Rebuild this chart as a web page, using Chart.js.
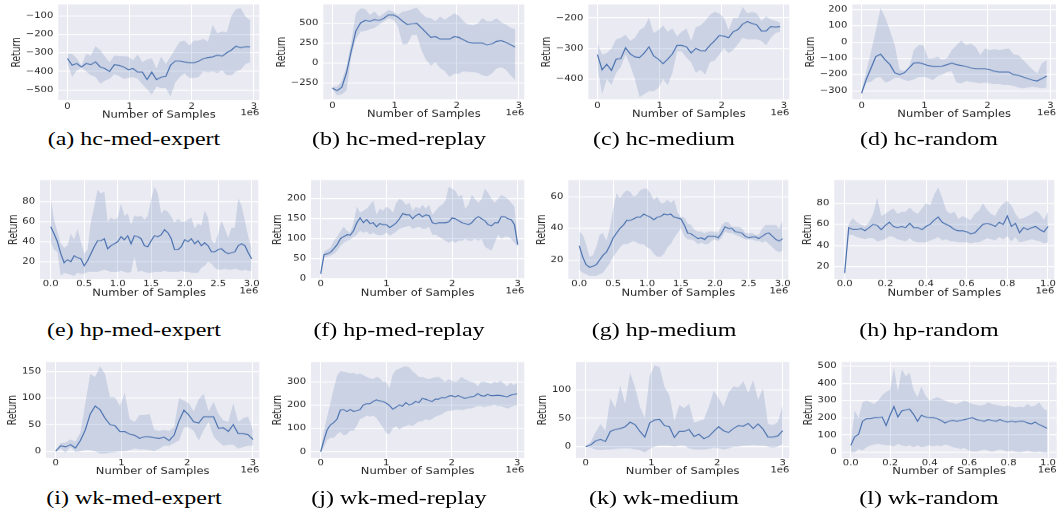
<!DOCTYPE html>
<html><head><meta charset="utf-8">
<script src="https://cdn.jsdelivr.net/npm/chart.js@4.4.0/dist/chart.umd.min.js"></script>
<style>
body{margin:0;background:#fff;width:1060px;height:512px;overflow:hidden;position:relative;}
.cap{position:absolute;font-family:'Liberation Serif','DejaVu Serif',serif;font-size:24px;color:#000;white-space:nowrap;transform:translate(-50%,-50%) scaleY(0.8);}
canvas{position:absolute;}
</style></head><body>
<script>
// ---------------- data ----------------
const captions = ['(a) hc-med-expert','(b) hc-med-replay','(c) hc-medium','(d) hc-random',
  '(e) hp-med-expert','(f) hp-med-replay','(g) hp-medium','(h) hp-random',
  '(i) wk-med-expert','(j) wk-med-replay','(k) wk-medium','(l) wk-random'];

const xTicks3 = [0,1,2,3];
const xTicks3h = [0,0.5,1,1.5,2,2.5,3];
const xTicks1 = [0,0.2,0.4,0.6,0.8,1.0];

const hcMedExpertYTicks = [-500,-400,-300,-200,-100];
const hcMedReplayYTicks = [-250,0,250,500];
const hcMediumYTicks = [-400,-300,-200];
const hcRandomYTicks = [-300,-200,-100,0,100,200];
const hpMedExpertYTicks = [20,40,60,80];
const hpMedReplayYTicks = [0,50,100,150,200];
const hpMediumYTicks = [20,40,60];
const hpRandomYTicks = [20,40,60,80];
const wkMedExpertYTicks = [0,50,100,150];
const wkMedReplayYTicks = [0,100,200,300];
const wkMediumYTicks = [0,50,100];
const wkRandomYTicks = [0,100,200,300,400,500];

const hcMedExpertMean = [-330,-367,-358,-376,-358,-364,-349,-376,-385,-400,-364,-367,-376,-391,-385,-404,-404,-444,-404,-444,-431,-427,-367,-344,-344,-349,-353,-353,-345,-331,-325,-322,-313,-318,-300,-285,-264,-273,-267,-267];
const hcMedExpertUpper = [-305,-305,-330,-370,-305,-315,-265,-285,-320,-350,-315,-318,-318,-320,-340,-310,-350,-335,-330,-385,-320,-360,-320,-280,-240,-235,-260,-235,-235,-225,-240,-150,-195,-185,-190,-100,-65,-60,-105,-125];
const hcMedExpertLower = [-355,-430,-395,-380,-400,-420,-430,-465,-450,-440,-415,-425,-440,-435,-430,-440,-470,-495,-525,-480,-490,-490,-535,-460,-430,-410,-435,-435,-430,-400,-405,-400,-410,-395,-420,-420,-400,-390,-360,-350];

const hcMedReplayMean = [-312,-340,-300,-120,150,400,500,530,520,540,530,560,600,600,570,520,480,490,495,440,380,320,330,300,300,300,330,320,290,260,250,250,250,225,240,270,280,260,230,200];
const hcMedReplayUpper = [-290,-290,-220,-40,250,620,680,670,600,640,580,620,660,640,600,640,650,670,690,620,570,560,520,580,540,580,620,590,520,480,470,490,560,520,520,560,510,480,440,420];
const hcMedReplayLower = [-320,-400,-390,-340,80,300,390,400,420,440,480,520,560,540,450,230,240,350,350,160,40,-30,10,-60,-100,-170,-130,-130,-100,-110,-110,-120,-150,-165,-130,-70,-50,-80,-150,-210];

const hcMediumMean = [-320,-370,-352,-372,-335,-333,-298,-318,-328,-330,-315,-295,-325,-335,-350,-335,-318,-290,-290,-295,-315,-300,-307,-308,-290,-275,-258,-260,-265,-245,-238,-220,-212,-218,-223,-243,-243,-228,-230,-228];
const hcMediumUpper = [-285,-320,-315,-300,-270,-265,-255,-275,-265,-240,-230,-200,-250,-240,-225,-245,-235,-260,-245,-235,-275,-230,-225,-210,-190,-180,-185,-200,-240,-200,-200,-165,-185,-180,-185,-210,-195,-205,-210,-215];
const hcMediumLower = [-360,-450,-400,-420,-380,-360,-320,-355,-400,-460,-450,-440,-440,-430,-400,-420,-380,-310,-310,-330,-345,-380,-370,-385,-345,-340,-320,-300,-315,-305,-285,-265,-270,-270,-270,-275,-290,-265,-250,-245];

const hcRandomMean = [-315,-230,-160,-90,-75,-110,-140,-190,-200,-190,-160,-130,-128,-135,-145,-150,-150,-148,-140,-130,-140,-145,-150,-160,-165,-165,-165,-170,-180,-185,-185,-185,-200,-205,-215,-225,-235,-240,-225,-210];
const hcRandomUpper = [-300,-180,-60,70,210,150,70,-20,-170,-180,-160,-50,-20,-20,-100,-100,-90,-110,-100,-50,-20,10,-20,-10,-30,-80,-40,-50,-45,-50,-45,-40,-75,-80,-110,-140,-170,-195,-130,-110];
const hcRandomLower = [-330,-250,-245,-220,-215,-250,-240,-220,-220,-235,-240,-230,-215,-215,-220,-235,-210,-200,-185,-180,-250,-255,-240,-245,-250,-255,-250,-255,-260,-260,-265,-265,-270,-280,-285,-280,-275,-280,-285,-280];

const hpMedExpertMean = [55,48,40,28,19,22,20,26,24,23,16,21,28,35,41,41,43,33,36,38,40,45,42,46,38,46,45,43,36,35,41,46,45,47,52,49,43,32,32,35,42,40,43,38,41,36,39,36,30,30,32,33,30,28,29,30,36,38,36,29,23];
const hpMedExpertUpper = [83,62,50,38,34,36,48,42,53,40,28,32,60,75,92,88,90,60,64,62,64,78,66,68,57,66,65,66,62,66,82,95,88,68,72,70,65,59,63,60,60,62,64,53,58,56,71,64,42,38,48,61,53,44,54,54,83,76,61,45,33];
const hpMedExpertLower = [40,32,30,6,9,8,7,6,9,8,8,10,10,10,10,11,12,11,10,10,10,11,10,9,10,25,10,11,10,9,9,10,10,10,11,10,10,10,10,11,10,10,9,9,9,14,16,20,18,14,12,12,13,12,12,13,12,11,12,11,11];

const hpMedReplayMean = [12,60,62,66,75,85,100,105,110,109,120,140,152,140,148,138,140,130,138,135,135,128,133,140,150,163,160,160,150,158,162,155,160,158,140,138,140,140,140,142,152,150,145,140,138,135,140,150,155,150,145,135,132,140,140,155,155,150,148,135,85];
const hpMedReplayUpper = [15,68,72,78,95,105,118,130,120,115,140,180,165,170,175,185,195,160,175,170,180,175,165,190,200,195,185,190,170,180,175,185,175,185,160,170,180,185,195,230,225,220,205,210,175,185,210,200,190,200,225,215,200,190,200,210,205,200,190,180,90];
const hpMedReplayLower = [9,52,55,58,62,70,82,90,95,98,105,110,120,115,118,110,115,110,108,110,115,108,112,118,125,128,130,132,125,128,130,125,125,130,110,110,105,100,95,90,95,90,95,95,100,95,95,100,95,100,80,75,70,90,110,100,105,105,100,90,80];

const hpMediumMean = [29,22,17,15.5,16,17,20,23,25,29,34,37,40,42,45,45,46,47,47,49,48,47,45.5,47,47.5,49,48.5,49,47,46.5,46,42,37,36.5,35,33.5,34,33,35,35,35,34,37,41,40,40,38,37.5,37,35,34,34.5,34.5,33.5,35,36.5,37,35,33,32,33.5];
const hpMediumUpper = [38,36,30,22,23,28,36,37,32,40,52,62,59,62,64,63,60,61,64,65,65,62,58,60,56,56,58,56,58,50,47,47,43,42,39,38,38,37,38,38,38,37,42,44,44,41,41,41,40,37,37,37,36,36,40,42,42,42,42,40,45];
const hpMediumLower = [14,12,11,10,10,10,11,12,15,18,22,25,28,30,30,31,32,31,30,30,28,27,24,22,22,24,28,30,34,37,40,35,33,33,32,30,31,30,30,32,33,32,34,38,37,37,36,35,34,33,33,33,32,32,31,32,30,28,26,25,26];

const hpRandomMean = [14,57,55,55,56,54,57,60,59,55,59,62,58,57,58,57,61,57,57,55,58,60,64,67,62,60,58,55,54,54,53,51,52,56,60,61,60,58,62,60,68,58,61,52,57,55,57,58,55,53,58];
const hpRandomUpper = [15,60,66,62,60,58,62,70,85,68,70,73,75,70,72,72,76,72,70,75,80,78,88,95,85,73,70,72,65,68,66,64,70,73,80,74,70,68,75,80,82,78,70,65,66,68,70,73,70,64,72];
const hpRandomLower = [13,50,50,48,47,46,47,47,44,45,46,49,48,46,45,44,47,44,43,43,43,45,46,48,45,46,44,44,43,43,43,42,43,43,45,47,46,45,48,46,49,44,48,43,44,45,46,45,44,42,43];

const wkMedExpertMean = [0,10,8,12,6,20,40,70,85,78,62,50,48,37,37,32,30,24,27,27,25,24,26,20,30,57,77,68,55,53,65,65,65,43,44,37,50,33,33,31,22];
const wkMedExpertUpper = [2,15,16,22,18,35,90,145,140,160,145,102,102,85,110,60,55,68,68,70,40,38,40,38,45,100,95,90,75,98,108,75,93,70,58,55,90,55,62,65,40];
const wkMedExpertLower = [-2,5,-3,8,-2,0,2,2,0,-5,-5,-3,-2,0,0,2,5,3,3,2,0,5,10,10,15,20,45,45,38,20,40,55,28,18,10,12,12,5,8,10,10];

const wkMedReplayMean = [0,50,95,115,125,140,178,180,172,180,173,175,180,200,205,205,215,222,218,215,208,198,182,190,200,195,210,200,205,215,210,228,225,220,215,225,225,232,230,238,240,235,240,235,228,232,235,238,248,240,238,245,240,240,242,240,238,235,242,245,248];
const wkMedReplayUpper = [2,90,150,210,270,325,345,342,340,335,338,330,335,328,320,315,310,320,315,300,300,270,330,350,355,362,365,362,345,335,320,320,315,310,315,318,320,310,300,310,305,300,305,320,310,305,300,295,280,300,300,295,290,300,295,305,290,280,295,285,295];
const wkMedReplayLower = [-2,20,50,60,60,75,85,70,75,90,90,110,140,145,155,150,155,145,125,105,80,75,100,110,95,105,110,115,110,120,130,130,140,135,140,150,155,160,170,175,175,180,180,178,180,185,185,190,195,195,190,195,195,200,195,195,190,185,190,195,200];

const wkMediumMean = [0,3,10,13,9,27,30,32,35,43,39,27,17,42,47,48,37,35,16,27,27,30,18,22,14,18,27,35,28,25,32,37,36,41,32,40,31,17,17,19,28];
const wkMediumUpper = [0,8,25,40,28,85,68,108,75,130,105,70,50,125,143,140,105,90,45,73,68,75,42,45,48,70,98,85,70,95,106,104,115,95,117,82,103,40,38,43,72];
const wkMediumLower = [0,-2,-5,-6,-5,-5,-4,-3,-3,-3,-5,-6,-10,-4,0,2,2,2,0,2,2,-3,-5,-5,-5,-4,-2,-3,-5,-3,0,0,2,2,3,2,2,0,-2,0,5];

const wkRandomMean = [40,90,105,180,195,195,200,200,205,155,215,265,205,240,245,250,220,180,215,205,200,200,195,185,170,180,185,180,185,190,195,200,190,185,180,190,185,180,190,180,175,180,175,180,180,170,165,175,160,150,140];
const wkRandomUpper = [50,240,200,290,300,290,280,300,330,350,360,490,350,480,440,460,360,320,380,330,300,310,320,310,300,290,285,280,290,300,290,280,275,270,275,290,280,275,270,265,270,265,260,265,260,280,265,270,290,255,240];
const wkRandomLower = [0,0,20,10,30,40,45,50,45,40,40,35,50,40,35,40,30,40,30,35,40,35,40,35,45,40,30,25,20,25,10,5,5,10,15,10,5,10,15,10,5,10,5,0,5,10,5,0,5,0,-5];

// ---------------- layout / style ----------------
const SY = 0.8;
const LINE = '#4C72B0';
const BAND = 'rgba(76,114,176,0.2)';
const PLOT_BG = '#EAEAF2';
const TXT = '#262626';
Chart.defaults.font.family = "'DejaVu Sans', sans-serif";

const panels = [
  {plot:[58.3,4.5,259.3,100], xr:[-0.147,3.087], yr:[-554,-40], xt:xTicks3, xd:0, yt:hcMedExpertYTicks, m:hcMedExpertMean, u:hcMedExpertUpper, l:hcMedExpertLower, xEnd:2.94},
  {plot:[323.3,4.5,524.3,99.3], xr:[-0.147,3.087], yr:[-450,729], xt:xTicks3, xd:0, yt:hcMedReplayYTicks, m:hcMedReplayMean, u:hcMedReplayUpper, l:hcMedReplayLower, xEnd:2.94},
  {plot:[588.3,4.5,789.3,99.3], xr:[-0.147,3.087], yr:[-467,-156], xt:xTicks3, xd:0, yt:hcMediumYTicks, m:hcMediumMean, u:hcMediumUpper, l:hcMediumLower, xEnd:2.94},
  {plot:[852.3,4.5,1056,99.3], xr:[-0.147,3.087], yr:[-353,231], xt:xTicks3, xd:0, yt:hcRandomYTicks, m:hcRandomMean, u:hcRandomUpper, l:hcRandomLower, xEnd:2.94},
  {plot:[40,180,258.3,279], xr:[-0.16,3.10], yr:[2.7,101.7], xt:xTicks3h, xd:1, yt:hpMedExpertYTicks, m:hpMedExpertMean, u:hpMedExpertUpper, l:hpMedExpertLower, xEnd:3.0},
  {plot:[311,180,524.3,279], xr:[-0.148,3.10], yr:[-1,247], xt:xTicks3, xd:0, yt:hpMedReplayYTicks, m:hpMedReplayMean, u:hpMedReplayUpper, l:hpMedReplayLower, xEnd:3.0},
  {plot:[568.3,180,788.3,279], xr:[-0.162,3.084], yr:[8,70.5], xt:xTicks3h, xd:1, yt:hpMediumYTicks, m:hpMediumMean, u:hpMediumUpper, l:hpMediumLower, xEnd:3.0},
  {plot:[834.3,180,1054.3,279], xr:[-0.051,1.031], yr:[8.3,102], xt:xTicks1, xd:1, yt:hpRandomYTicks, m:hpRandomMean, u:hpRandomUpper, l:hpRandomLower, xEnd:1.0},
  {plot:[46,362,259.3,458], xr:[-0.148,3.096], yr:[-13,168], xt:xTicks3, xd:0, yt:wkMedExpertYTicks, m:wkMedExpertMean, u:wkMedExpertUpper, l:wkMedExpertLower, xEnd:3.0},
  {plot:[311,362,524.3,458], xr:[-0.148,3.11], yr:[-27,384], xt:xTicks3, xd:0, yt:wkMedReplayYTicks, m:wkMedReplayMean, u:wkMedReplayUpper, l:wkMedReplayLower, xEnd:3.0},
  {plot:[576,362,789.3,458], xr:[-0.148,3.10], yr:[-20,149], xt:xTicks3, xd:0, yt:wkMediumYTicks, m:wkMediumMean, u:wkMediumUpper, l:wkMediumLower, xEnd:3.0},
  {plot:[841.7,362,1056.7,458], xr:[-0.046,1.044], yr:[-33,523], xt:xTicks1, xd:1, yt:wkRandomYTicks, m:wkRandomMean, u:wkRandomUpper, l:wkRandomLower, xEnd:0.995}
];
const capX = [134,399,664,929];
const capY = [139,330,498];
const tickOff = [7, 4.5, 5];
const labelOff = [15, 14, 14];

const seabornPlugin = {
  id: 'sb',
  beforeDraw(chart) {
    const {ctx, chartArea: a} = chart;
    ctx.save();
    ctx.fillStyle = PLOT_BG;
    ctx.fillRect(a.left, a.top, a.right - a.left, a.bottom - a.top);
    ctx.restore();
  },
  afterDraw(chart, args, opts) {
    const {ctx, chartArea: a} = chart;
    const sy = opts.sy;
    ctx.save();
    ctx.fillStyle = TXT;
    ctx.textBaseline = 'middle';
    const ty = a.bottom + opts.lo / sy;
    ctx.font = "11.5px 'DejaVu Sans'";
    ctx.textAlign = 'center';
    ctx.fillText('Number of Samples', (a.left + a.right) / 2, ty);
    ctx.font = "10px 'DejaVu Sans'";
    ctx.textAlign = 'right';
    ctx.fillText('1e6', a.right, ty - 1.5 / sy);
    let maxW = 0;
    chart.scales.y.ticks.forEach(t => { maxW = Math.max(maxW, ctx.measureText(String(t.label)).width); });
    ctx.font = "11.5px 'DejaVu Sans'";
    ctx.translate(a.left - 5 - maxW - 4 - 4.5, (a.top + a.bottom) / 2);
    ctx.rotate(-Math.PI / 2);
    ctx.textAlign = 'center';
    ctx.fillText('Return', 0, 0);
    ctx.restore();
  }
};

function fmtY(v) { return v < 0 ? '\u2212' + Math.abs(v) : String(v); }

panels.forEach((p, i) => {
  const row = Math.floor(i / 4);
  const [pl, pt, pr, pb] = p.plot;
  const PADL = 62, PADR = 6, PADT = 6, PADB = 24;
  const L = Math.floor(pl - PADL), T = Math.floor(pt - PADT);
  const R = Math.ceil(pr + PADR), B = Math.ceil(pb + PADB);
  const W = R - L, Hd = B - T;
  const Hc = Math.round(Hd / SY);
  const sy = Hd / Hc;
  const c = document.createElement('canvas');
  c.width = W; c.height = Hc;
  c.style.left = L + 'px'; c.style.top = T + 'px';
  c.style.width = W + 'px'; c.style.height = Hd + 'px';
  document.body.appendChild(c);
  const n = p.m.length;
  const xs = p.m.map((_, k) => k * p.xEnd / (n - 1));
  const pts = arr => arr.map((v, k) => ({x: xs[k], y: v}));
  const yW = pl - L;
  const xH = (B - pb) / sy;
  new Chart(c, {
    type: 'line',
    data: { datasets: [
      {data: pts(p.u), borderColor: 'transparent', borderWidth: 0, backgroundColor: BAND, fill: '+1', pointRadius: 0, tension: 0},
      {data: pts(p.l), borderColor: 'transparent', borderWidth: 0, fill: false, pointRadius: 0, tension: 0},
      {data: pts(p.m), borderColor: LINE, borderWidth: 1.2, fill: false, pointRadius: 0, tension: 0}
    ]},
    options: {
      responsive: false, animation: false, devicePixelRatio: 1, events: [],
      layout: {padding: {left: 0, right: R - pr, top: (pt - T) / sy, bottom: 0}},
      plugins: {legend: {display: false}, tooltip: {enabled: false}, sb: {sy: sy, lo: labelOff[row]}},
      scales: {
        x: {type: 'linear', min: p.xr[0], max: p.xr[1],
          border: {display: false},
          grid: {color: '#ffffff', lineWidth: 1, drawTicks: false},
          ticks: {padding: Math.max(0, tickOff[row] / sy - 6), color: TXT, font: {size: 10}, maxRotation: 0, autoSkip: false,
            callback: v => Number(v).toFixed(p.xd)},
          afterBuildTicks: s => { s.ticks = p.xt.map(v => ({value: v})); },
          afterFit: s => { s.height = xH; s.paddingLeft = 0; s.paddingRight = 0; }
        },
        y: {type: 'linear', min: p.yr[0], max: p.yr[1],
          border: {display: false},
          grid: {color: '#ffffff', lineWidth: 1.25, drawTicks: false},
          ticks: {padding: 5, color: TXT, font: {size: 10}, autoSkip: false, callback: v => fmtY(v)},
          afterBuildTicks: s => { s.ticks = p.yt.map(v => ({value: v})); },
          afterFit: s => { s.width = yW; s.paddingTop = 0; s.paddingBottom = 0; }
        }
      }
    },
    plugins: [seabornPlugin]
  });
  const d = document.createElement('div');
  d.className = 'cap';
  d.textContent = captions[i];
  d.style.left = capX[i % 4] + 'px';
  d.style.top = capY[row] + 'px';
  document.body.appendChild(d);
});
</script>
</body></html>
